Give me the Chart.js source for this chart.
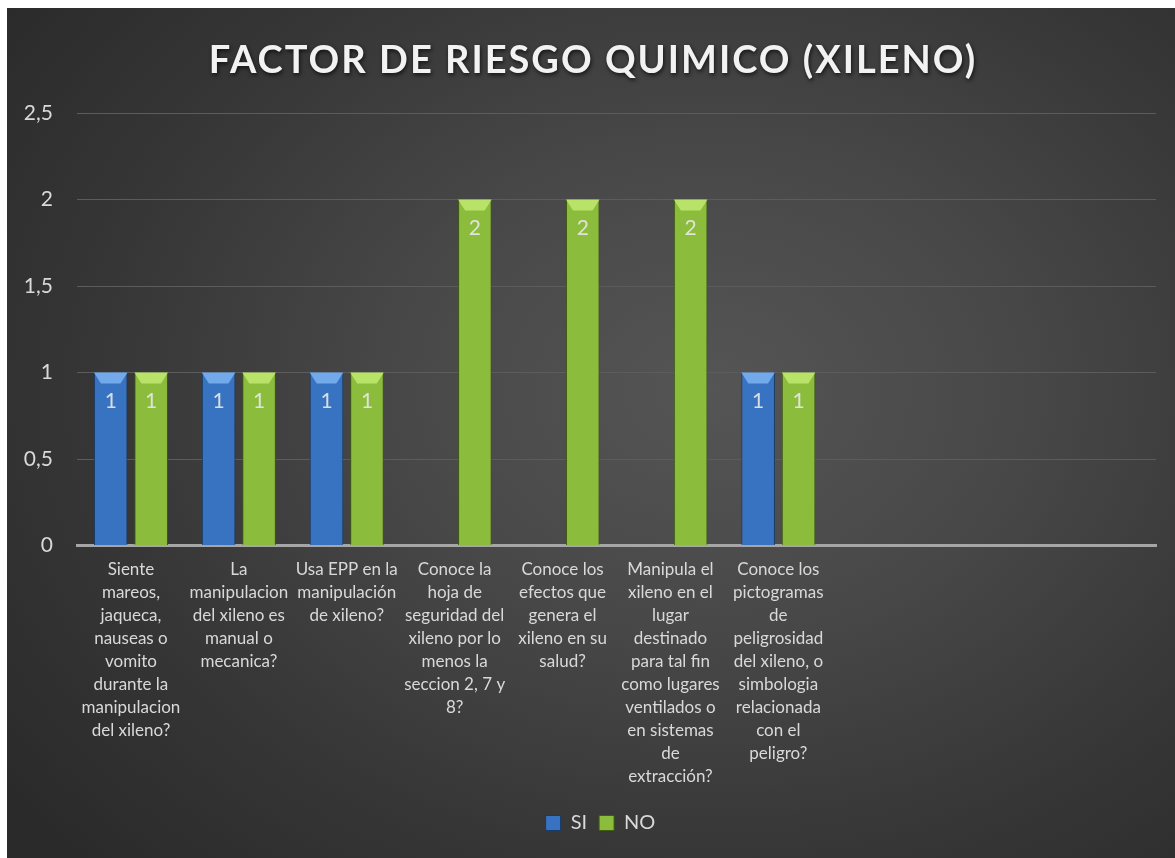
<!DOCTYPE html>
<html><head><meta charset="utf-8">
<script src="https://cdn.jsdelivr.net/npm/chart.js@4.4.0/dist/chart.umd.min.js"></script>
<style>
html,body{margin:0;padding:0;background:#fff;}
#wrap{position:absolute;left:7px;top:8px;width:1168px;height:850px;
 background:radial-gradient(ellipse 75% 80% at 60% 45%, #555 0%, #484848 35%, #363636 70%, #2a2a2a 100%);}
#logo{position:absolute;left:1010px;top:-9px;font:11px "Liberation Sans";color:#777;white-space:nowrap;height:9px;overflow:hidden;}
canvas{position:absolute;left:0;top:0;}
</style></head><body>
<div id="logo">Corporación Universitaria</div>
<div id="wrap"><canvas id="c" width="1168" height="850"></canvas></div>
<script>
const titleText = "FACTOR DE RIESGO QUIMICO (XILENO)";
const categories = [
 ["Siente","mareos,","jaqueca,","nauseas o","vomito","durante la","manipulacion","del xileno?"],
 ["La","manipulacion","del xileno es","manual o","mecanica?"],
 ["Usa EPP en la","manipulación","de xileno?"],
 ["Conoce la","hoja de","seguridad del","xileno por lo","menos la","seccion 2, 7 y","8?"],
 ["Conoce los","efectos que","genera el","xileno en su","salud?"],
 ["Manipula el","xileno en el","lugar","destinado","para tal fin","como lugares","ventilados o","en sistemas","de","extracción?"],
 ["Conoce los","pictogramas","de","peligrosidad","del xileno, o","simbologia","relacionada","con el","peligro?"],
 "", "", ""
];
const siValues = [1, 1, 1, null, null, null, 1, null, null, null];
const noValues = [1, 1, 1, 2, 2, 2, 1, null, null, null];
const yTicks = [0, 0.5, 1, 1.5, 2, 2.5];
const seriesNames = ["SI", "NO"];

const FONT = "Lato";
const ctx = document.getElementById('c').getContext('2d');

function barGrad(dark, mid, light){
  return function(c){
    const el = c.element; if(!el || el.x===undefined || !el.width) return mid;
    const w = el.width, x0 = el.x - w/2;
    const g = c.chart.ctx.createLinearGradient(x0,0,x0+w,0);
    g.addColorStop(0,dark); g.addColorStop(0.1,mid); g.addColorStop(0.45,light);
    g.addColorStop(0.85,mid); g.addColorStop(1,dark);
    return g;
  };
}

const bevelPlugin = {
  id:'bevel',
  afterDatasetsDraw(chart){
    const c = chart.ctx;
    chart.data.datasets.forEach((ds,i)=>{
      const meta = chart.getDatasetMeta(i);
      const col = i===0 ? 'rgba(120,175,240,0.9)' : 'rgba(190,230,110,0.9)';
      meta.data.forEach((el,j)=>{
        if(ds.data[j]==null) return;
        const w = el.width, x0 = el.x - w/2, y0 = el.y;
        c.save();
        c.fillStyle = col;
        c.beginPath(); c.moveTo(x0,y0); c.lineTo(x0+w,y0); c.lineTo(x0+w-7,y0+11); c.lineTo(x0+7,y0+11); c.closePath(); c.fill();
        c.fillStyle = 'rgba(230,230,230,0.92)';
        c.font = '21px ' + FONT; c.textAlign='center'; c.textBaseline='middle';
        c.fillText(String(ds.data[j]), el.x, y0+29);
        c.restore();
      });
    });
  }
};

const titlePlugin = {
  id:'ttl',
  afterDraw(chart){
    const c = chart.ctx;
    c.save();
    c.font = 'bold 38px ' + FONT;
    c.letterSpacing = '2px';
    c.textAlign='center'; c.textBaseline='middle';
    c.shadowColor='rgba(0,0,0,0.7)'; c.shadowBlur=4; c.shadowOffsetX=1; c.shadowOffsetY=2;
    c.fillStyle='#f2f2f2';
    c.fillText(titleText, chart.width/2 + 2, 53);
    c.restore();
  }
};

const legendShift = {
  id:'legendShift',
  afterLayout(chart){
    if(chart.legend){ chart.legend.left += 19; chart.legend.right += 19; }
  }
};

new Chart(ctx,{
  type:'bar',
  data:{
    labels: categories,
    datasets:[
      {label:seriesNames[0], data:siValues,
       backgroundColor:barGrad('#1f4c86','#3873c2','#4a88d8'),
       borderColor:'#173a66', borderWidth:{left:1,right:1,top:0,bottom:0},
       barPercentage:0.83, categoryPercentage:0.75},
      {label:seriesNames[1], data:noValues,
       backgroundColor:barGrad('#557d1a','#8cbc3c','#a0cf4e'),
       borderColor:'#3f5c12', borderWidth:{left:1,right:1,top:0,bottom:0},
       barPercentage:0.83, categoryPercentage:0.75}
    ]
  },
  options:{
    responsive:false, animation:false,
    layout:{padding:{top:105,left:0,right:19,bottom:15}},
    plugins:{
      title:{display:false},
      tooltip:{enabled:false},
      legend:{position:'bottom', labels:{color:'#d9d9d9', font:{family:FONT,size:20}, boxWidth:15, boxHeight:15, padding:12,
        generateLabels(chart){
          return chart.data.datasets.map((d,i)=>({text:d.label, fillStyle:i===0?'#3873c2':'#8cbc3c', strokeStyle:i===0?'#173a66':'#3f5c12', lineWidth:1, datasetIndex:i, fontColor:'#d9d9d9'}));
        }}}
    },
    scales:{
      x:{grid:{display:false, drawTicks:false}, border:{display:true, color:'#a6a6a6', width:3},
        ticks:{color:'#d9d9d9', font:{family:FONT,size:17, lineHeight:1.35}, maxRotation:0, minRotation:0, autoSkip:false, padding:13}},
      y:{min:0,max:2.5, afterBuildTicks(ax){ax.ticks = yTicks.map(v=>({value:v}));},
        afterFit(ax){ax.width = 70;},
        grid:{color:'#5c5c5c', lineWidth:1, drawTicks:false}, border:{display:false},
        ticks:{color:'#d9d9d9', font:{family:FONT,size:21}, padding:24,
          callback:(v)=>String(v).replace('.',',')}}
    }
  },
  plugins:[bevelPlugin,titlePlugin,legendShift]
});
</script>
</body></html>
